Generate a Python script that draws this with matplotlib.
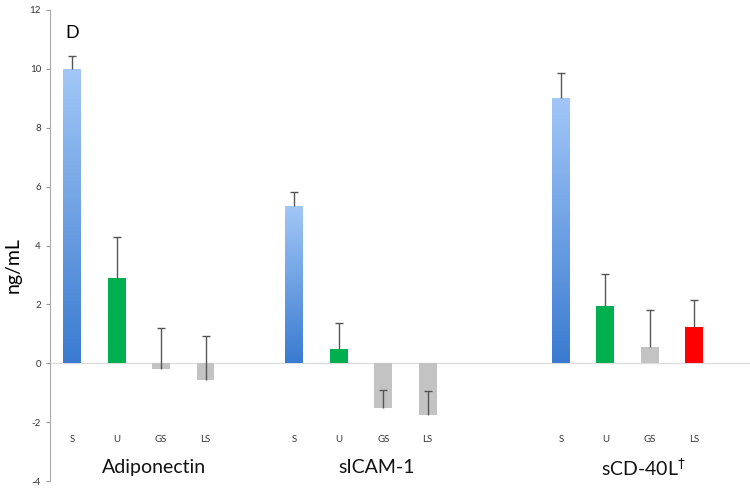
import matplotlib.pyplot as plt
import matplotlib.colors as mcolors
import numpy as np

plt.rcParams['font.family'] = ['Lato', 'DejaVu Sans']
plt.rcParams['axes.unicode_minus'] = False

# data
groups = ['Adiponectin', 'sICAM-1', 'sCD-40L$^{\\dagger}$']
subgroups = ['S', 'U', 'GS', 'LS']
adiponectin = [10.0, 2.9, -0.2, -0.55]
adiponectin_err = [0.45, 1.4, 1.4, 1.47]
sicam = [5.35, 0.5, -1.5, -1.75]
sicam_err = [0.45, 0.88, 0.6, 0.8]
scd40l = [9.0, 1.95, 0.55, 1.25]
scd40l_err = [0.85, 1.1, 1.25, 0.9]

values = [adiponectin, sicam, scd40l]
errors = [adiponectin_err, sicam_err, scd40l_err]
starts = [0, 5, 11]

colors = [
    [None, '#00b050', '#c3c3c3', '#c3c3c3'],
    [None, '#00b050', '#c3c3c3', '#c3c3c3'],
    [None, '#00b050', '#c3c3c3', '#ff0000'],
]

fig = plt.figure(figsize=(7.5, 4.94), dpi=100)
ax = fig.add_axes([0.0667, 0.026, 0.933, 0.954])

blue_cmap = mcolors.LinearSegmentedColormap.from_list('blu', ['#3a7bd0', '#a2c7f7'])
width = 0.4

for g in range(3):
    xs = np.arange(4) + starts[g]
    for i in range(4):
        x = xs[i]
        v = values[g][i]
        if colors[g][i] is None:
            bar = ax.bar(x, v, width, color='none', edgecolor='none', zorder=2)[0]
            grad = np.linspace(0, 1, 256).reshape(-1, 1)
            im = ax.imshow(grad, cmap=blue_cmap, origin='lower', aspect='auto',
                           extent=[x - width / 2, x + width / 2, 0, v], zorder=2)
            im.set_clip_path(bar)
        else:
            ax.bar(x, v, width, color=colors[g][i], edgecolor='none', zorder=2)
        eb = ax.errorbar(x, v, yerr=[[0], [errors[g][i]]], fmt='none', ecolor='#555555',
                         elinewidth=1, capsize=3, capthick=1, zorder=3)
        # only keep the upper cap
        for cap in eb[1]:
            if abs(cap.get_ydata()[0] - v) < 1e-9:
                cap.set_visible(False)
        ax.text(x, -2.6, subgroups[i], ha='center', va='center', fontsize=7, color='#333333')
    ax.text(xs.mean() + 0.35, -3.55, groups[g], ha='center', va='center',
            fontsize=14, color='#111111')

ax.axhline(0, color='#dddddd', lw=1, zorder=1)

ax.set_xlim(-0.5, 15.25)
ax.set_ylim(-4, 12)
ax.set_yticks(range(-4, 13, 2))
ax.tick_params(axis='y', labelsize=7, colors='#333333', length=3, color='#999999')
ax.set_xticks([])
for s in ['top', 'right', 'bottom']:
    ax.spines[s].set_visible(False)
ax.spines['left'].set_color('#aaaaaa')

ax.set_ylabel('ng/mL', fontsize=14)
ax.yaxis.set_label_coords(-0.04, 0.459)
ax.text(0.0, 11.2, 'D', fontsize=13, ha='center', va='center')

fig.savefig('out.png', dpi=100)
